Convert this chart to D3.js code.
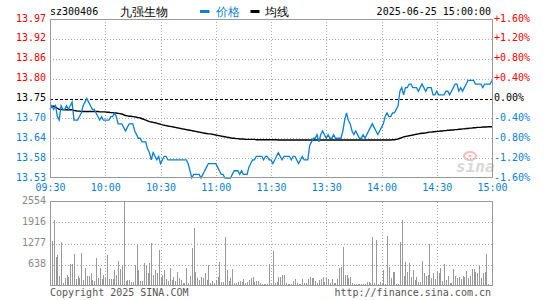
<!DOCTYPE html>
<html><head><meta charset="utf-8">
<script src="https://cdn.jsdelivr.net/npm/d3@7/dist/d3.min.js"></script>
<style>body{margin:0;background:#fff}svg{display:block}text{font-family:"DejaVu Sans Mono",monospace}</style>
</head><body>
<script>
const code = "sz300406";
const stockName = "九强生物";
const dateText = "2025-06-25 15:00:00";
const legendNames = ["价格", "均线"];
const timeLabels = ["09:30","10:00","10:30","11:00","11:30","13:30","14:00","14:30","15:00"];
const timeTickIdx = [0,30,60,90,120,150,180,210,240];
const priceTicks = [13.97,13.915,13.86,13.805,13.75,13.695,13.64,13.585,13.53];
const priceLabels = ["13.97","13.92","13.86","13.80","13.75","13.70","13.64","13.58","13.53"];
const pctLabels = ["+1.60%","+1.20%","+0.80%","+0.40%","0.00%","-0.40%","-0.80%","-1.20%","-1.60%"];
const volTicks = [638,1277,1916,2554];
const volLabels = ["638","1277","1916","2554"];
const prevClose = 13.75;

const price = [
13.72,13.73,13.72,13.73,13.70,13.69,13.73,13.72,13.72,13.73,
13.72,13.73,13.74,13.69,13.69,13.69,13.70,13.71,13.73,13.74,
13.75,13.74,13.73,13.72,13.72,13.71,13.70,13.69,13.70,13.69,
13.69,13.69,13.69,13.70,13.70,13.71,13.70,13.68,13.68,13.68,
13.67,13.66,13.67,13.68,13.68,13.68,13.66,13.65,13.64,13.64,
13.63,13.63,13.63,13.61,13.60,13.58,13.60,13.59,13.58,13.59,
13.57,13.58,13.59,13.59,13.58,13.58,13.58,13.58,13.58,13.58,
13.58,13.58,13.58,13.58,13.58,13.57,13.55,13.53,13.54,13.54,
13.54,13.54,13.53,13.54,13.55,13.56,13.57,13.57,13.57,13.57,
13.57,13.56,13.55,13.54,13.54,13.53,13.53,13.53,13.53,13.54,
13.55,13.55,13.55,13.54,13.55,13.54,13.54,13.54,13.56,13.57,
13.58,13.58,13.59,13.59,13.59,13.59,13.58,13.59,13.59,13.58,
13.58,13.57,13.58,13.59,13.60,13.59,13.58,13.59,13.59,13.59,
13.59,13.58,13.59,13.59,13.58,13.57,13.58,13.59,13.58,13.58,
13.58,13.62,13.63,13.64,13.64,13.65,13.63,13.65,13.66,13.65,
13.64,13.65,13.64,13.64,13.65,13.64,13.64,13.64,13.64,13.66,
13.69,13.71,13.69,13.68,13.66,13.65,13.66,13.65,13.64,13.64,
13.65,13.64,13.65,13.66,13.67,13.68,13.67,13.66,13.65,13.66,
13.67,13.68,13.70,13.71,13.70,13.70,13.71,13.71,13.72,13.73,
13.77,13.78,13.76,13.78,13.78,13.79,13.79,13.78,13.78,13.78,
13.77,13.78,13.79,13.78,13.77,13.78,13.78,13.78,13.76,13.76,
13.77,13.76,13.76,13.76,13.76,13.77,13.77,13.76,13.77,13.78,
13.79,13.79,13.77,13.78,13.77,13.78,13.79,13.80,13.80,13.80,
13.80,13.79,13.79,13.79,13.79,13.78,13.79,13.79,13.79,13.79,13.80];

const avgPrice = [
13.726,13.728,13.729,13.726,13.723,13.720,13.720,13.719,13.719,13.719,
13.719,13.719,13.719,13.717,13.716,13.715,13.715,13.714,13.714,13.714,
13.714,13.714,13.714,13.714,13.714,13.714,13.714,13.713,13.713,13.713,
13.713,13.712,13.712,13.711,13.711,13.710,13.710,13.709,13.708,13.707,
13.705,13.703,13.702,13.701,13.701,13.700,13.699,13.698,13.697,13.696,
13.694,13.692,13.690,13.688,13.686,13.685,13.684,13.683,13.682,13.680,
13.679,13.677,13.676,13.675,13.674,13.673,13.672,13.671,13.670,13.669,
13.668,13.667,13.666,13.665,13.664,13.663,13.662,13.661,13.660,13.659,
13.658,13.657,13.656,13.655,13.654,13.653,13.652,13.652,13.651,13.650,
13.649,13.648,13.647,13.646,13.645,13.644,13.643,13.642,13.641,13.640,
13.640,13.639,13.639,13.638,13.638,13.638,13.637,13.637,13.637,13.637,
13.637,13.637,13.636,13.636,13.636,13.636,13.636,13.636,13.636,13.636,
13.636,13.636,13.636,13.636,13.635,13.635,13.635,13.635,13.635,13.635,
13.635,13.635,13.635,13.635,13.635,13.635,13.635,13.635,13.635,13.635,
13.635,13.635,13.635,13.635,13.635,13.635,13.635,13.635,13.635,13.635,
13.635,13.635,13.635,13.635,13.635,13.635,13.635,13.635,13.635,13.635,
13.635,13.635,13.635,13.635,13.635,13.635,13.635,13.635,13.635,13.635,
13.635,13.635,13.635,13.635,13.635,13.635,13.635,13.635,13.635,13.635,
13.635,13.635,13.635,13.635,13.635,13.635,13.636,13.636,13.637,13.638,
13.640,13.642,13.644,13.645,13.646,13.647,13.648,13.649,13.650,13.651,
13.652,13.653,13.654,13.654,13.655,13.656,13.657,13.657,13.658,13.658,
13.659,13.659,13.660,13.660,13.661,13.661,13.662,13.662,13.663,13.663,
13.664,13.664,13.665,13.665,13.666,13.666,13.667,13.667,13.668,13.668,
13.669,13.669,13.670,13.670,13.670,13.671,13.671,13.671,13.672,13.672,13.672];

const volume = [
190,1352,1988,878,928,290,1312,70,220,320,
250,656,656,958,190,290,220,1000,170,535,
290,290,373,170,150,837,220,535,190,320,
220,928,190,190,190,474,320,747,494,595,
2554,150,170,170,120,120,625,1231,474,150,
150,696,625,393,696,1281,320,474,373,1080,
220,320,474,190,150,525,170,250,150,424,
220,170,90,90,525,70,290,1130,1735,424,
220,170,270,220,373,170,625,90,150,90,
170,270,726,120,120,1463,474,150,220,505,
90,90,120,150,120,190,90,120,170,220,
250,120,150,150,90,50,50,50,50,645,
60,1050,70,120,250,250,320,320,90,50,
50,60,150,190,70,50,60,190,70,90,
190,250,220,220,150,90,170,190,250,120,
220,190,70,190,70,90,190,525,555,1180,
320,320,220,250,70,50,50,50,50,50,
50,50,100,100,70,1463,70,1382,50,120,
50,474,50,1503,555,220,424,424,50,50,
1332,1988,290,726,424,676,250,474,170,250,
120,100,757,393,290,320,1261,220,373,190,
424,393,525,150,656,170,290,70,70,494,
290,220,250,190,290,250,454,220,290,494,
494,424,393,625,220,393,424,958,60,0,0];

const W = 545, H = 300;
const L = 50, R = 492, T = 19, B = 178, VT = 201.5, VB = 285.5;
const blue = "#0b7fd4", red = "#ff0000", gridC = "#aaaaaa", borderC = "#999999";

const svg = d3.select("body").append("svg").attr("width", W).attr("height", H);

const x = d3.scaleLinear().domain([0, 240]).range([L, R]);
const y = d3.scaleLinear().domain([13.53, 13.97]).range([B, T]);
const yv = d3.scaleLinear().domain([0, 2554]).range([VB, VT]);

const labelColor = (i, n) => i < (n - 1) / 2 ? red : (i === (n - 1) / 2 ? "#000" : blue);

// grids main
const g = svg.append("g").attr("shape-rendering", "crispEdges");
g.selectAll(".hg").data(priceTicks.slice(1, -1)).enter().append("line")
  .attr("x1", L).attr("x2", R).attr("y1", d => Math.round(y(d)) + 0.5).attr("y2", d => Math.round(y(d)) + 0.5)
  .attr("stroke", gridC).attr("stroke-dasharray", "1,2")
  .filter(d => d === prevClose).attr("stroke", "#000").attr("stroke-dasharray", "3,2");
g.selectAll(".vg").data(timeTickIdx.slice(1, -1)).enter().append("line")
  .attr("x1", d => Math.round(x(d)) + 0.5).attr("x2", d => Math.round(x(d)) + 0.5).attr("y1", T).attr("y2", B)
  .attr("stroke", gridC).attr("stroke-dasharray", "1,2");
// grids volume
g.selectAll(".vhg").data(volTicks.slice(0, -1)).enter().append("line")
  .attr("x1", L).attr("x2", R).attr("y1", d => Math.round(yv(d)) + 0.5).attr("y2", d => Math.round(yv(d)) + 0.5)
  .attr("stroke", gridC).attr("stroke-dasharray", "1,2");
g.selectAll(".vvg").data(timeTickIdx.slice(1, -1)).enter().append("line")
  .attr("x1", d => Math.round(x(d)) + 0.5).attr("x2", d => Math.round(x(d)) + 0.5).attr("y1", VT).attr("y2", VB)
  .attr("stroke", gridC).attr("stroke-dasharray", "1,2");

// watermark
const wm = svg.append("g").attr("opacity", 0.9);
wm.append("ellipse").attr("cx", 470).attr("cy", 156).attr("rx", 6).attr("ry", 4)
  .attr("fill", "none").attr("stroke", "#f2b8b8").attr("stroke-width", 2);
wm.append("circle").attr("cx", 470).attr("cy", 156).attr("r", 1.6).attr("fill", "#f2b8b8");
wm.append("text").attr("x", 456).attr("y", 172).attr("font-family", "Liberation Sans, Arial, sans-serif")
  .attr("font-style", "italic").attr("font-weight", "bold").attr("font-size", 16).attr("fill", "#d4d4d4").text("sina");

// volume bars
svg.append("g").attr("shape-rendering", "crispEdges").selectAll("line")
  .data(volume.map((v, i) => ({v, i})).filter(d => d.v > 0)).enter().append("line")
  .attr("x1", d => Math.round(x(d.i)) + 0.5).attr("x2", d => Math.round(x(d.i)) + 0.5)
  .attr("y1", yv(0)).attr("y2", d => yv(d.v))
  .attr("stroke", "#999999").attr("stroke-width", 1);

// lines
const line = d3.line().x((d, i) => x(i)).y(d => y(d));
svg.append("path").datum(avgPrice).attr("d", line).attr("fill", "none").attr("stroke", "#000").attr("stroke-width", 1.4);
svg.append("path").datum(price).attr("d", line).attr("fill", "none").attr("stroke", blue).attr("stroke-width", 1.3);

// borders
const bd = svg.append("g").attr("shape-rendering", "crispEdges");
bd.append("rect").attr("x", L + 0.5).attr("y", T + 0.5).attr("width", R - L).attr("height", B - T - 1)
  .attr("fill", "none").attr("stroke", borderC);
bd.append("rect").attr("x", L + 0.5).attr("y", VT - 0.5).attr("width", R - L).attr("height", VB - VT + 0.5)
  .attr("fill", "none").attr("stroke", borderC);

// axes
const fs = 10;
const axL = svg.append("g").attr("transform", `translate(${L - 1},0)`)
  .call(d3.axisLeft(y).tickValues(priceTicks).tickFormat((d, i) => priceLabels[i]).tickSize(0).tickPadding(3));
axL.select(".domain").remove();
axL.selectAll("text").attr("font-size", fs).attr("font-family", "DejaVu Sans Mono")
  .attr("fill", (d, i) => labelColor(i, priceTicks.length)).attr("dy", "0.2em");

const axR = svg.append("g").attr("transform", `translate(${R},0)`)
  .call(d3.axisRight(y).tickValues(priceTicks).tickFormat((d, i) => pctLabels[i]).tickSize(0).tickPadding(2));
axR.select(".domain").remove();
axR.selectAll("text").attr("font-size", fs).attr("font-family", "DejaVu Sans Mono")
  .attr("fill", (d, i) => labelColor(i, priceTicks.length)).attr("dy", "0.2em");

const axB = svg.append("g").attr("transform", `translate(0,${B})`)
  .call(d3.axisBottom(x).tickValues(timeTickIdx).tickFormat((d, i) => timeLabels[i]).tickSize(0));
axB.select(".domain").remove();
axB.selectAll("text").attr("font-size", fs).attr("font-family", "DejaVu Sans Mono")
  .attr("fill", blue).attr("y", 13).attr("dy", 0);

const axV = svg.append("g").attr("transform", `translate(${L - 1},0)`)
  .call(d3.axisLeft(yv).tickValues(volTicks).tickFormat((d, i) => volLabels[i]).tickSize(0).tickPadding(3));
axV.select(".domain").remove();
axV.selectAll("text").attr("font-size", fs).attr("font-family", "DejaVu Sans Mono")
  .attr("fill", "#888").attr("dy", "0.2em");

// header
svg.append("text").attr("x", 50).attr("y", 15).attr("font-size", fs).attr("fill", "#000").text(code);
svg.append("text").attr("x", 120).attr("y", 16).attr("font-size", 12)
  .attr("font-family", "Noto Sans CJK SC").attr("fill", "#000").text(stockName);
svg.append("rect").attr("x", 200).attr("y", 10).attr("width", 9.5).attr("height", 3).attr("fill", blue);
svg.append("text").attr("x", 216).attr("y", 16).attr("font-size", 12)
  .attr("font-family", "Noto Sans CJK SC").attr("fill", blue).text(legendNames[0]);
svg.append("rect").attr("x", 250.5).attr("y", 10).attr("width", 9).attr("height", 3).attr("fill", "#000");
svg.append("text").attr("x", 265).attr("y", 16).attr("font-size", 12)
  .attr("font-family", "Noto Sans CJK SC").attr("fill", "#000").text(legendNames[1]);
svg.append("text").attr("x", 491).attr("y", 15).attr("text-anchor", "end").attr("font-size", fs).attr("fill", "#000").text(dateText);

// footer
svg.append("text").attr("x", 50).attr("y", 296).attr("font-size", fs).attr("fill", "#555").text("Copyright 2025 SINA.COM");
svg.append("text").attr("x", 491).attr("y", 296).attr("text-anchor", "end").attr("font-size", fs).attr("fill", "#555").text("http://finance.sina.com.cn");
</script>
</body></html>
